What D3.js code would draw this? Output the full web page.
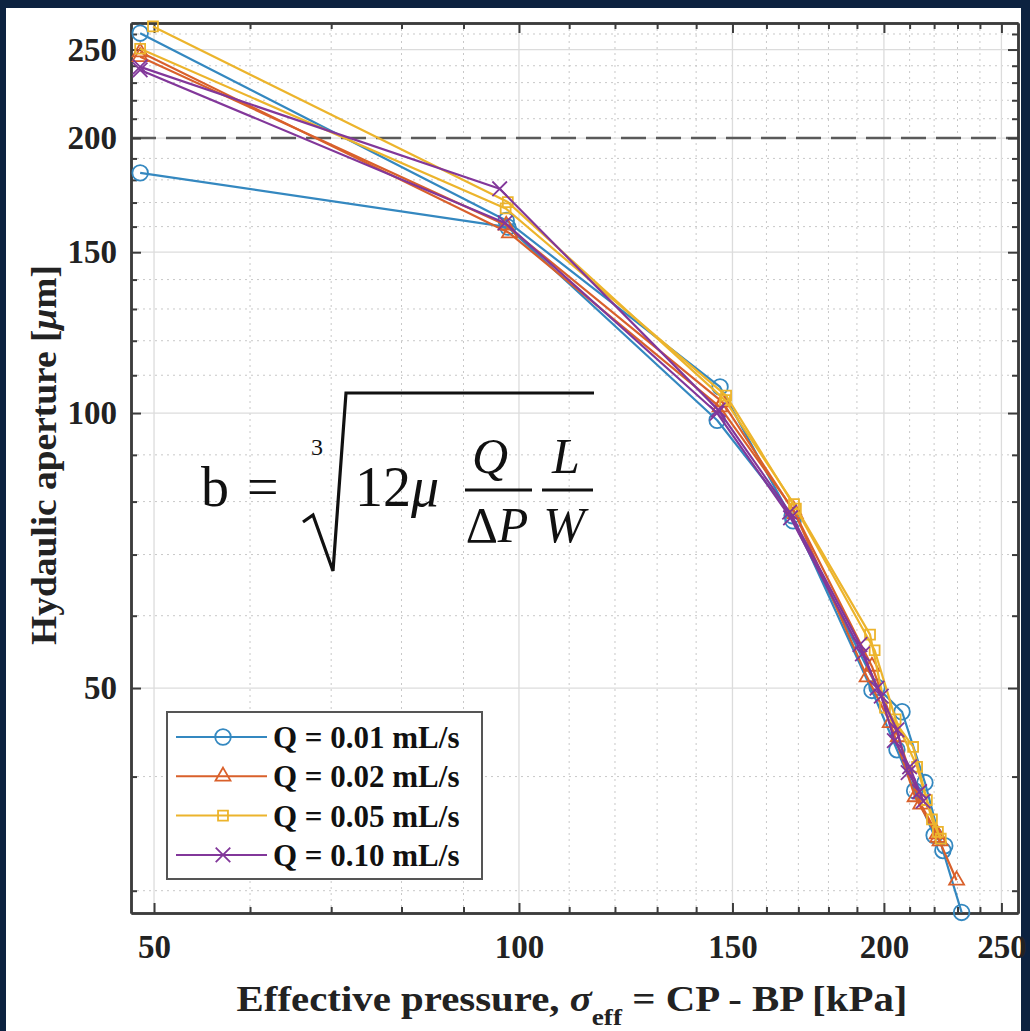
<!DOCTYPE html>
<html><head><meta charset="utf-8">
<script src="https://cdn.jsdelivr.net/npm/d3@7"></script>
<style>body{margin:0;background:#0c2240;} svg{display:block}</style>
</head><body>
<svg id="c" width="1030" height="1031"></svg>
<script>
// ---------------- data ----------------
const seriesNames = ["Q = 0.01 mL/s", "Q = 0.02 mL/s", "Q = 0.05 mL/s", "Q = 0.10 mL/s"];
const seriesColors = ["#3488c0", "#d9602b", "#ecb42c", "#82379a"];
const seriesMarkers = ["circle", "triangle", "square", "cross"];

// [effective pressure kPa, hydraulic aperture µm] — two runs per flow rate
const q001_run1 = [[48.7,260.5],[97.6,162.5],[146.5,106.8],[168.3,76.2],[197.4,50.1],[207.0,47.1],[216.2,39.4],[223.7,33.2],[231.8,28.4]];
const q001_run2 = [[48.7,183.2],[97.9,159.8],[145.7,98.2],[168.0,77.2],[195.5,49.7],[205.0,42.8],[212.0,38.6],[220.0,34.5],[224.5,33.6]];
const q002_run1 = [[48.7,248.4],[98.2,157.4],[146.5,101.5],[168.5,78.3],[193.7,51.4],[202.4,45.8],[212.2,38.0],[221.6,34.3],[229.6,30.8]];
const q002_run2 = [[48.7,245.5],[97.6,160.5],[147.2,102.8],[169.0,77.6],[195.5,52.8],[205.5,44.2],[214.5,37.3],[221.3,34.6],[222.5,34.0]];
const q005_run1 = [[49.9,265.0],[97.9,170.2],[147.9,103.3],[168.6,79.5],[194.8,57.2],[200.4,47.6],[211.4,43.1],[217.0,37.7],[221.6,34.8]];
const q005_run2 = [[48.7,250.5],[97.5,167.5],[148.2,104.5],[169.2,78.6],[196.5,55.0],[204.5,46.2],[213.0,41.0],[219.1,35.9],[222.8,34.2]];
const q010_run1 = [[48.7,239.3],[96.4,176.0],[146.0,100.8],[167.2,77.9],[191.1,55.8],[197.4,50.0],[205.0,45.0],[209.4,40.4],[214.0,38.5]];
const q010_run2 = [[48.7,237.5],[97.4,161.5],[145.7,100.0],[167.5,76.8],[192.0,54.5],[199.0,49.0],[204.0,43.8],[210.0,41.0],[215.5,37.6]];
const seriesRuns = [[q001_run1, q001_run2], [q002_run1, q002_run2], [q005_run1, q005_run2], [q010_run1, q010_run2]];

const xMajorTicks = [50, 100, 150, 200, 250];
const xMinorTicks = [60,70,80,90,110,120,130,140,160,170,180,190,210,220,230,240];
const yMajorTicks = [50, 100, 150, 200, 250];
const yMinorTicks = [30,40,60,70,80,90,110,120,130,140,160,170,180,190,210,220,230,240,260];
const referenceAperture = 200;
const xDomain = [47.86, 258.0];
const yDomain = [28.36, 267.3];
const xLabelMain = "Effective pressure, ";
const yLabelText = ["Hydaulic aperture [", "μ", "m]"];

// ---------------- layout ----------------
const svg = d3.select("#c");
const L = 131, R = 1018, T = 23, B = 913;
const x = d3.scaleLog().domain(xDomain).range([L, R]);
const y = d3.scaleLog().domain(yDomain).range([B, T]);
const serif = "'Liberation Serif','Times New Roman',serif";

svg.append("rect").attr("x",0).attr("y",0).attr("width",1030).attr("height",1031).attr("fill","#0c2240");
svg.append("rect").attr("x",6).attr("y",8).attr("width",1015).attr("height",1023).attr("fill","#fff");

// grid
const grid = svg.append("g");
grid.selectAll(".vmin").data(xMinorTicks).join("line")
  .attr("x1", d=>x(d)).attr("x2", d=>x(d)).attr("y1", T).attr("y2", B)
  .attr("stroke", "#c8c8c8").attr("stroke-width", 1).attr("stroke-dasharray", "2,4");
grid.selectAll(".hmin").data(yMinorTicks).join("line")
  .attr("y1", d=>y(d)).attr("y2", d=>y(d)).attr("x1", L).attr("x2", R)
  .attr("stroke", "#c8c8c8").attr("stroke-width", 1).attr("stroke-dasharray", "2,4");
grid.selectAll(".vmaj").data(xMajorTicks).join("line")
  .attr("x1", d=>x(d)).attr("x2", d=>x(d)).attr("y1", T).attr("y2", B)
  .attr("stroke", "#dcdcdc").attr("stroke-width", 1.3);
grid.selectAll(".hmaj").data(yMajorTicks).join("line")
  .attr("y1", d=>y(d)).attr("y2", d=>y(d)).attr("x1", L).attr("x2", R)
  .attr("stroke", "#dcdcdc").attr("stroke-width", 1.3);

// reference dashed line
svg.append("line").attr("x1", L).attr("x2", R)
  .attr("y1", y(referenceAperture)).attr("y2", y(referenceAperture))
  .attr("stroke", "#5a5a5a").attr("stroke-width", 2.5).attr("stroke-dasharray", "25,10");

// axes
function styleAxis(g){
  g.select(".domain").attr("stroke", "#3c3c3c").attr("stroke-width", 2.5);
  g.selectAll(".tick line").attr("stroke", "#3c3c3c").attr("stroke-width", 2);
  g.selectAll("text").attr("font-family", serif).attr("font-weight", "bold")
    .attr("font-size", 33).attr("fill", "#222");
}
const ax = svg.append("g").attr("transform", `translate(0,${B})`)
  .call(d3.axisBottom(x).tickValues(xMajorTicks).tickFormat(d3.format("d")).tickSize(-10).tickPadding(22).tickSizeOuter(0));
styleAxis(ax);
svg.append("g").attr("transform", `translate(0,${B})`)
  .call(d3.axisBottom(x).tickValues(xMinorTicks).tickFormat("").tickSize(-6).tickSizeOuter(0)).call(styleAxis);
svg.append("g").attr("transform", `translate(0,${T})`)
  .call(d3.axisTop(x).tickValues(xMajorTicks).tickFormat("").tickSize(-10).tickSizeOuter(0)).call(styleAxis);
svg.append("g").attr("transform", `translate(0,${T})`)
  .call(d3.axisTop(x).tickValues(xMinorTicks).tickFormat("").tickSize(-6).tickSizeOuter(0)).call(styleAxis);
const ay = svg.append("g").attr("transform", `translate(${L},0)`)
  .call(d3.axisLeft(y).tickValues(yMajorTicks).tickFormat(d3.format("d")).tickSize(-10).tickPadding(14).tickSizeOuter(0));
styleAxis(ay);
svg.append("g").attr("transform", `translate(${L},0)`)
  .call(d3.axisLeft(y).tickValues(yMinorTicks).tickFormat("").tickSize(-6).tickSizeOuter(0)).call(styleAxis);
svg.append("g").attr("transform", `translate(${R},0)`)
  .call(d3.axisRight(y).tickValues(yMajorTicks).tickFormat("").tickSize(-10).tickSizeOuter(0)).call(styleAxis);
svg.append("g").attr("transform", `translate(${R},0)`)
  .call(d3.axisRight(y).tickValues(yMinorTicks).tickFormat("").tickSize(-6).tickSizeOuter(0)).call(styleAxis);

// formula annotation
const f = svg.append("g").attr("font-family", serif).attr("fill", "#111");
f.append("text").attr("x", 201).attr("y", 506).attr("font-size", 56).text("b");
f.append("text").attr("x", 247).attr("y", 506).attr("font-size", 56).text("=");
f.append("text").attr("x", 311).attr("y", 455).attr("font-size", 24).text("3");
f.append("path").attr("d", "M303,522 L313,515 L333,571 L346,393 L594,393")
  .attr("fill", "none").attr("stroke", "#111").attr("stroke-width", 3.2);
const t12 = f.append("text").attr("x", 355).attr("y", 506).attr("font-size", 56);
t12.append("tspan").text("12");
t12.append("tspan").attr("font-style", "italic").text("μ");
f.append("text").attr("x", 490).attr("y", 473).attr("font-size", 50).attr("font-style","italic").attr("text-anchor","middle").text("Q");
f.append("line").attr("x1", 465).attr("x2", 532).attr("y1", 490).attr("y2", 490).attr("stroke","#111").attr("stroke-width",3);
const dp = f.append("text").attr("x", 497).attr("y", 542).attr("font-size", 50).attr("text-anchor","middle");
dp.append("tspan").text("Δ");
dp.append("tspan").attr("font-style","italic").text("P");
f.append("text").attr("x", 566).attr("y", 473).attr("font-size", 50).attr("font-style","italic").attr("text-anchor","middle").text("L");
f.append("line").attr("x1", 542).attr("x2", 593).attr("y1", 490).attr("y2", 490).attr("stroke","#111").attr("stroke-width",3);
f.append("text").attr("x", 564).attr("y", 542).attr("font-size", 50).attr("font-style","italic").attr("text-anchor","middle").text("W");

// markers
function drawMarker(g, type, cx, cy, color){
  const sw = 1.8;
  if (type === "circle") {
    g.append("circle").attr("cx", cx).attr("cy", cy).attr("r", 7.8)
      .attr("fill", "none").attr("stroke", color).attr("stroke-width", sw);
  } else if (type === "triangle") {
    g.append("path").attr("d", d3.symbol(d3.symbolTriangle2, 160)())
      .attr("transform", `translate(${cx},${cy})`)
      .attr("fill", "none").attr("stroke", color).attr("stroke-width", sw);
  } else if (type === "square") {
    g.append("path").attr("d", d3.symbol(d3.symbolSquare2, 125)())
      .attr("transform", `translate(${cx},${cy})`)
      .attr("fill", "none").attr("stroke", color).attr("stroke-width", sw);
  } else {
    g.append("path").attr("d", d3.symbol(d3.symbolX, 140)())
      .attr("transform", `translate(${cx},${cy})`)
      .attr("fill", "none").attr("stroke", color).attr("stroke-width", sw);
  }
}

// series
const line = d3.line().x(d => x(d[0])).y(d => y(d[1]));
seriesRuns.forEach((runs, i) => {
  const g = svg.append("g");
  runs.forEach(run => {
    g.append("path").datum(run).attr("d", line)
      .attr("fill", "none").attr("stroke", seriesColors[i]).attr("stroke-width", 2.2)
      .attr("stroke-linejoin", "round");
    run.forEach(d => drawMarker(g, seriesMarkers[i], x(d[0]), y(d[1]), seriesColors[i]));
  });
});

// legend
const lg = svg.append("g");
lg.append("rect").attr("x", 167).attr("y", 712).attr("width", 315).attr("height", 167)
  .attr("fill", "#fff").attr("stroke", "#555").attr("stroke-width", 2);
seriesNames.forEach((name, i) => {
  const ry = 737 + i * 39.3;
  lg.append("line").attr("x1", 176).attr("x2", 267).attr("y1", ry).attr("y2", ry)
    .attr("stroke", seriesColors[i]).attr("stroke-width", 2);
  drawMarker(lg, seriesMarkers[i], 223, ry, seriesColors[i]);
  lg.append("text").attr("x", 273).attr("y", ry + 11).attr("font-family", serif)
    .attr("font-weight", "bold").attr("font-size", 31).attr("fill", "#111").text(name);
});

// axis labels
const xl = svg.append("text").attr("font-family", serif).attr("font-weight", "bold")
  .attr("font-size", 36).attr("fill", "#222").attr("text-anchor", "middle");
xl.append("tspan").text(xLabelMain);
xl.append("tspan").attr("font-style", "italic").text("σ");
xl.append("tspan").attr("font-size", 24).attr("dy", 14).text("eff");
xl.append("tspan").attr("dy", -14).text(" = CP - BP [kPa]");
const xlW = xl.node().getComputedTextLength();
xl.attr("transform", `translate(572,1011) scale(${671 / xlW},1)`);

const yl = svg.append("text").attr("font-family", serif).attr("font-weight", "bold")
  .attr("font-size", 36).attr("fill", "#222").attr("text-anchor", "middle");
yl.append("tspan").text(yLabelText[0]);
yl.append("tspan").attr("font-style", "italic").text(yLabelText[1]);
yl.append("tspan").text(yLabelText[2]);
const ylW = yl.node().getComputedTextLength();
yl.attr("transform", `translate(56,455) rotate(-90) scale(${380 / ylW},1)`);
</script>
</body></html>
